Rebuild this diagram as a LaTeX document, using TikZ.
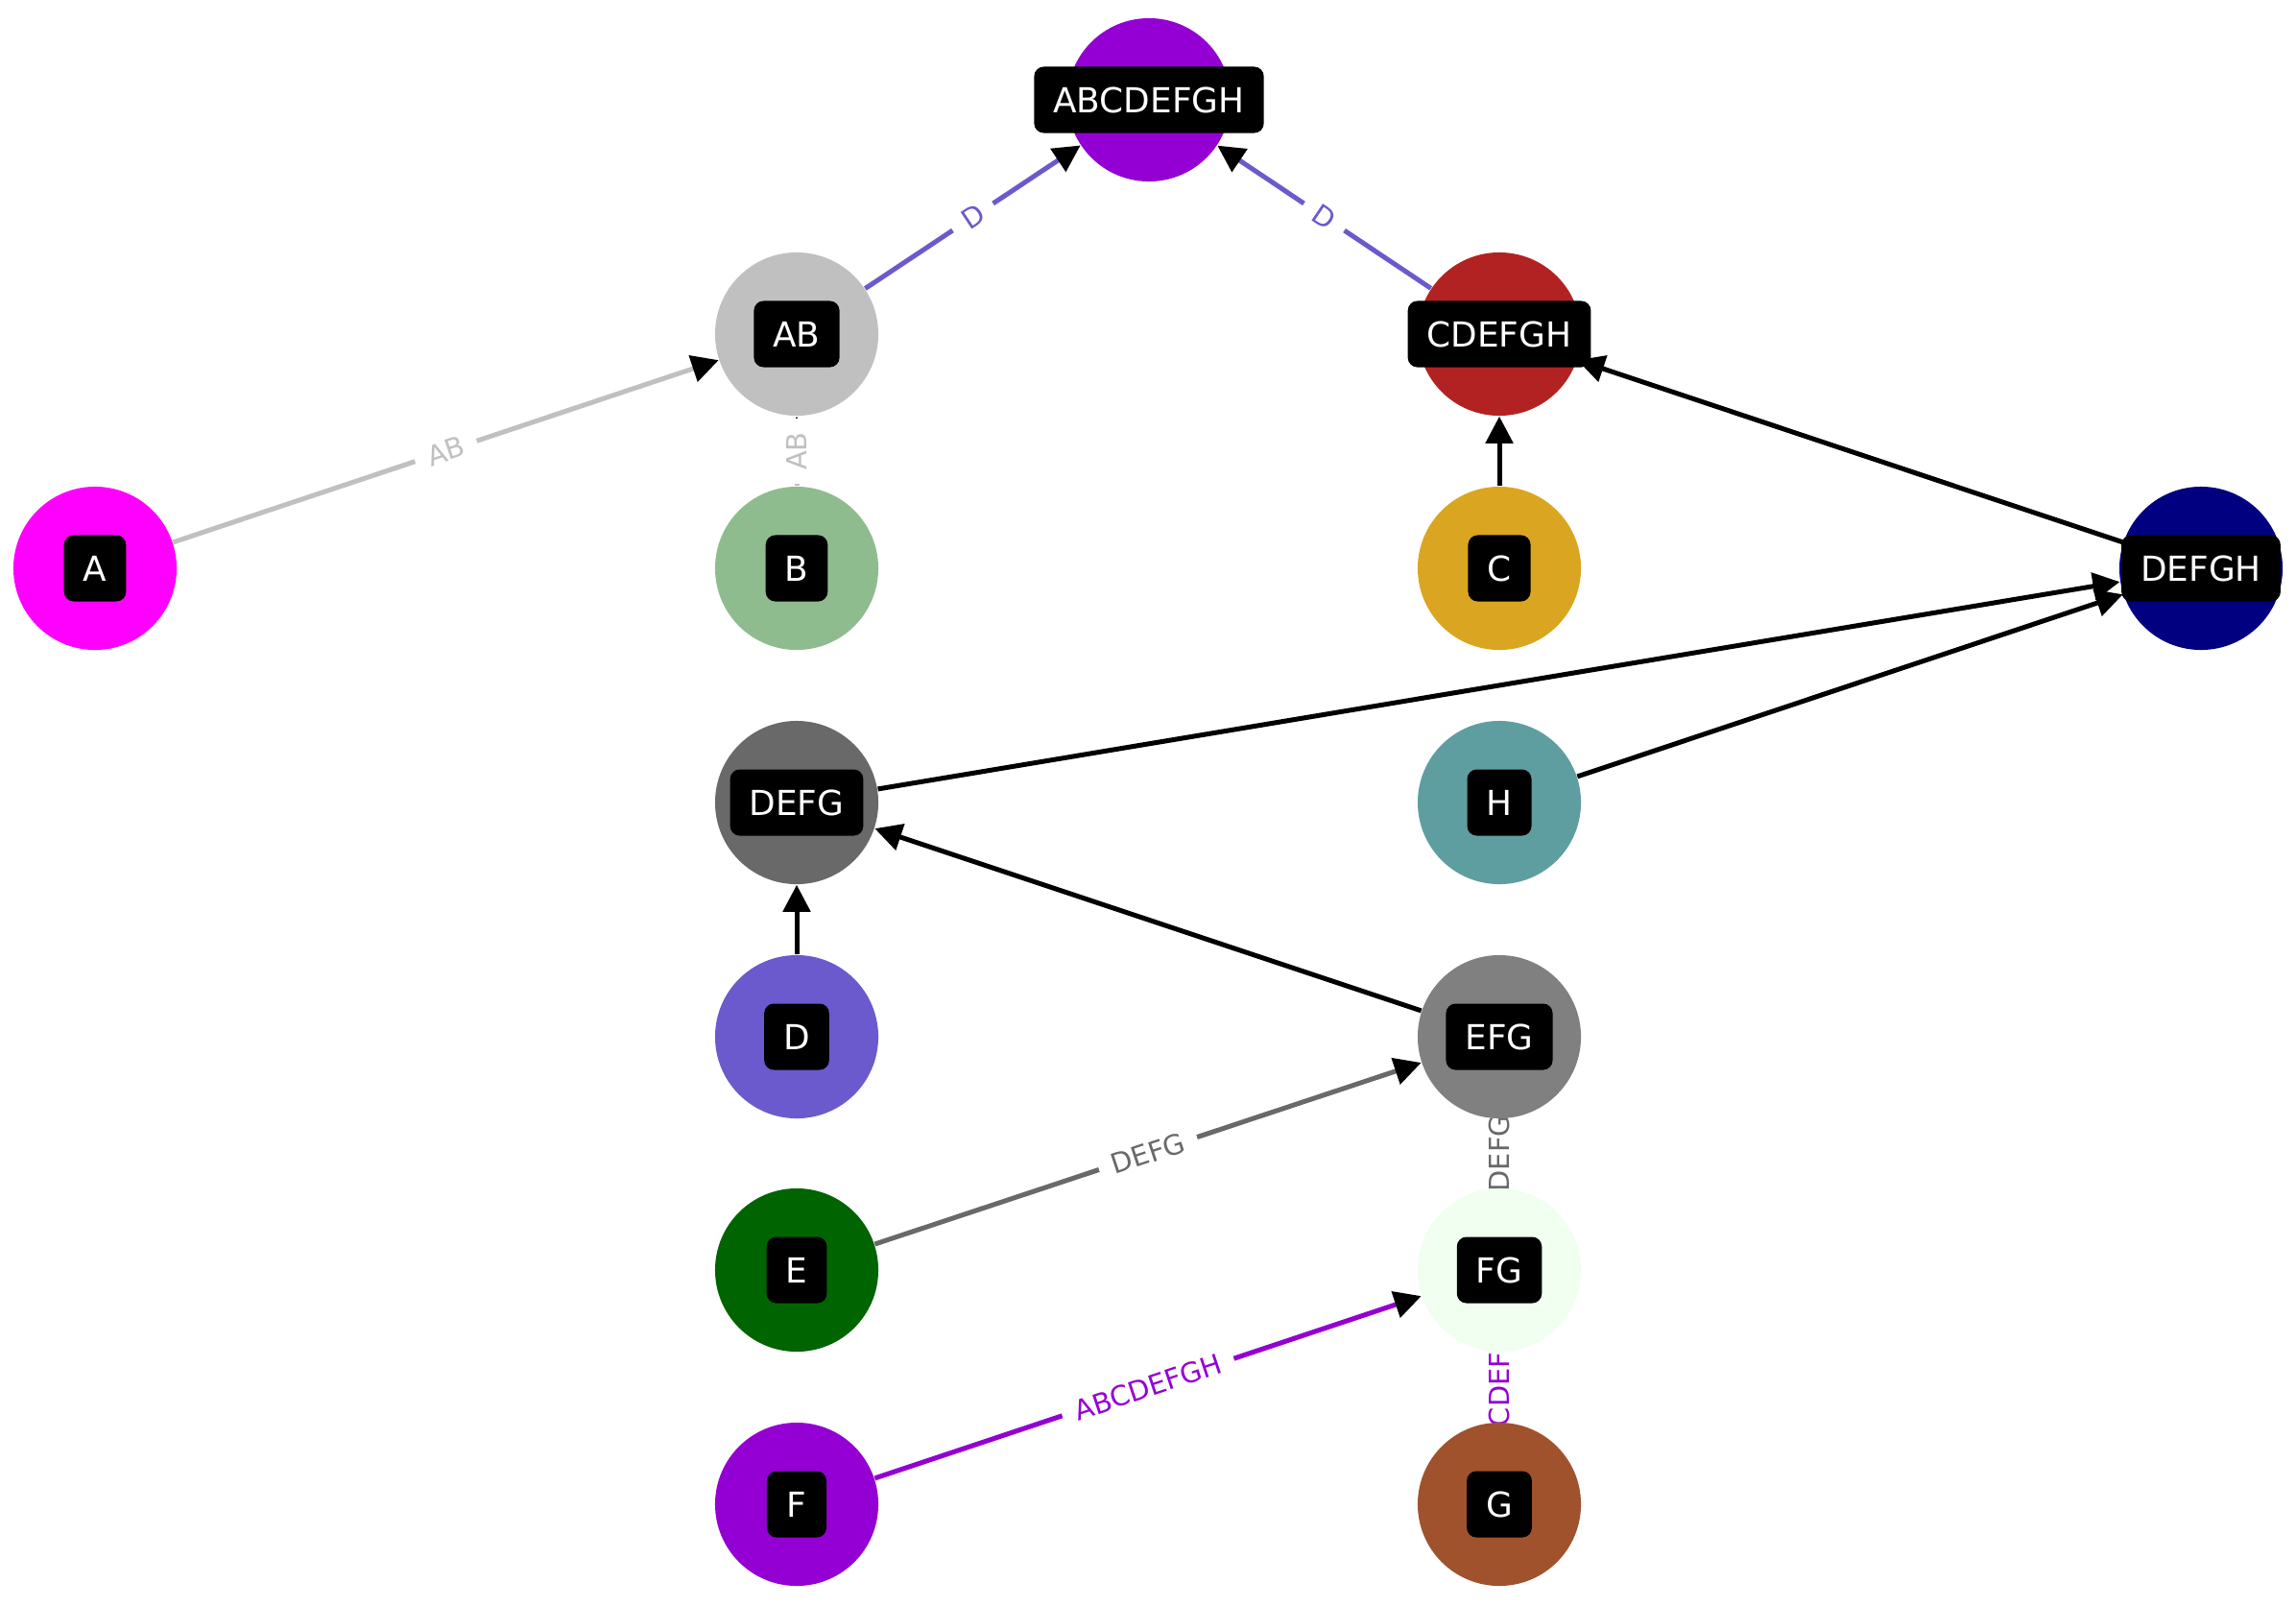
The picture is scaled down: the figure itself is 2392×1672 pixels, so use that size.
\documentclass[tikz,border=0pt]{standalone}
\usepackage{fontspec}
\setmainfont{DejaVu Sans}
\usetikzlibrary{arrows.meta}
\pgfdeclarelayer{bg}
\pgfsetlayers{bg,main}
\definecolor{cdarkviolet}{HTML}{9400D3}
\definecolor{csilver}{HTML}{C0C0C0}
\definecolor{cfirebrick}{HTML}{B22222}
\definecolor{cmagenta}{HTML}{FF00FF}
\definecolor{cseagreen}{HTML}{8FBC8F}
\definecolor{cgoldenrod}{HTML}{DAA520}
\definecolor{cnavy}{HTML}{000080}
\definecolor{cdimgray}{HTML}{696969}
\definecolor{ccadet}{HTML}{5F9EA0}
\definecolor{cslateblue}{HTML}{6A5ACD}
\definecolor{cgray}{HTML}{808080}
\definecolor{cdarkgreen}{HTML}{006400}
\definecolor{choneydew}{HTML}{F0FFF0}
\definecolor{csienna}{HTML}{A0522D}
\begin{document}
\begin{tikzpicture}[x=0.01cm,y=-0.01cm,
  vert/.style={circle, minimum size=1.7cm, inner sep=0pt, draw=none},
  lbl/.style={fill=black, text=white, rounded corners=0.1cm, inner xsep=0.2cm,
    inner ysep=0pt, minimum height=0.69cm, minimum width=0.62cm,
    font=\fontsize{10.2}{12}\selectfont, text height=0.262cm, text depth=0pt},
  edgeline/.style={line width=0.05cm, -{Triangle[length=0.28cm,width=0.28cm,color=black]}},
  elbl/.style={fill=white, inner sep=4pt, font=\fontsize{8.2}{10}\selectfont}
]
\useasboundingbox (0,0) rectangle (2392,1672);

% vertices
\node[vert, fill=cdarkviolet] (ABCDEFGH) at (1197,104) {};
\node[vert, fill=csilver] (AB) at (830,348) {};
\node[vert, fill=cfirebrick] (CDEFGH) at (1562,348) {};
\node[vert, fill=cmagenta] (A) at (99,592) {};
\node[vert, fill=cseagreen] (B) at (830,592) {};
\node[vert, fill=cgoldenrod] (C) at (1562,592) {};
\node[vert, fill=cnavy] (DEFGH) at (2293,592) {};
\node[vert, fill=cdimgray] (DEFG) at (830,836) {};
\node[vert, fill=ccadet] (H) at (1562,836) {};
\node[vert, fill=cslateblue] (D) at (830,1080) {};
\node[vert, fill=cgray] (EFG) at (1562,1080) {};
\node[vert, fill=cdarkgreen] (E) at (830,1323) {};
\node[vert, fill=choneydew] (FG) at (1562,1323) {};
\node[vert, fill=cdarkviolet] (F) at (830,1567) {};
\node[vert, fill=csienna] (G) at (1562,1567) {};

% labels
\node[lbl] (lABCDEFGH) at (ABCDEFGH) {ABCDEFGH};
\node[lbl] (lAB) at (AB) {AB};
\node[lbl] (lCDEFGH) at (CDEFGH) {CDEFGH};
\node[lbl] (lA) at (A) {A};
\node[lbl] (lB) at (B) {B};
\node[lbl] (lC) at (C) {C};
\node[lbl] (lDEFGH) at (DEFGH) {DEFGH};
\node[lbl] (lDEFG) at (DEFG) {DEFG};
\node[lbl] (lH) at (H) {H};
\node[lbl] (lD) at (D) {D};
\node[lbl] (lEFG) at (EFG) {EFG};
\node[lbl] (lE) at (E) {E};
\node[lbl] (lFG) at (FG) {FG};
\node[lbl] (lF) at (F) {F};
\node[lbl] (lG) at (G) {G};

\begin{pgfonlayer}{bg}
\draw[edgeline, csilver] (A) -- node[elbl, sloped, text=csilver] {AB} (AB);
\draw[edgeline, csilver] (B) -- node[elbl, rotate=90, text=csilver] {AB} (AB);
\draw[edgeline, cslateblue] (AB) -- node[elbl, sloped, text=cslateblue] {D} (ABCDEFGH);
\draw[edgeline, cslateblue] (CDEFGH) -- node[elbl, sloped, text=cslateblue] {D} (ABCDEFGH);
\draw[edgeline, black] (C) -- (CDEFGH);
\draw[edgeline, black] (DEFGH) -- (CDEFGH);
\draw[edgeline, black] (DEFG) -- (DEFGH);
\draw[edgeline, black] (H) -- (DEFGH);
\draw[edgeline, black] (D) -- (DEFG);
\draw[edgeline, black] (EFG) -- (DEFG);
\draw[edgeline, cdimgray] (E) -- node[elbl, sloped, text=cdimgray] {DEFG} (EFG);
\draw[edgeline, cdimgray] (FG) -- node[elbl, rotate=90, text=cdimgray] {DEFG} (EFG);
\draw[edgeline, cdarkviolet] (F) -- node[elbl, sloped, text=cdarkviolet] {ABCDEFGH} (FG);
\draw[edgeline, cdarkviolet] (G) -- node[elbl, rotate=90, text=cdarkviolet] {ABCDEFGH} (FG);
\end{pgfonlayer}
\end{tikzpicture}
\end{document}
